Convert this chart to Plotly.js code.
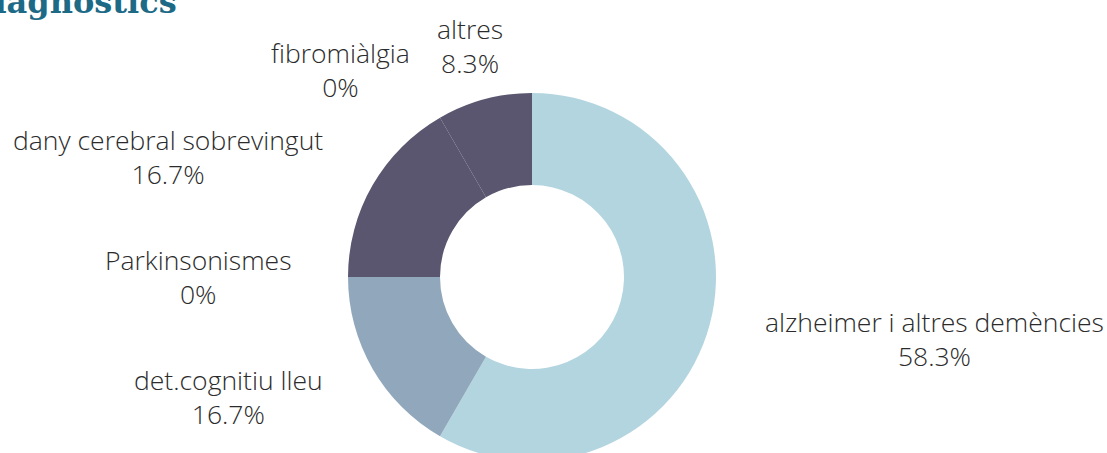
<!DOCTYPE html>
<html>
<head>
<meta charset="utf-8">
<script src="https://cdn.plot.ly/plotly-3.0.1.min.js"></script>
<style>
  html, body { margin: 0; padding: 0; overflow: hidden; background: #fff; }
  #myDiv { width: 1107px; height: 475px; }
</style>
</head>
<body>
<div id="myDiv"></div>
<script>
'use strict';
var labels = ['alzheimer i altres demències', 'det.cognitiu lleu', 'Parkinsonismes',
              'dany cerebral sobrevingut', 'fibromiàlgia', 'altres'];
var counts = [7, 2, 0, 2, 0, 1];
var colors = ['#b3d5e0', '#91a8bc', '#7c8aa3', '#5a5670', '#5a5670', '#5a5670'];

var trace1 = {
  type: 'pie',
  labels: labels,
  values: counts,
  hole: 0.5,
  sort: false,
  direction: 'clockwise',
  rotation: 0,
  textinfo: 'none',
  marker: { colors: colors, line: { width: 0 } },
  hoverinfo: 'label+percent'
};

// outside labels: one per slice, placed along the slice's middle angle
var total = counts.reduce(function (a, b) { return a + b; }, 0);
var labelRadius = 0.65; // in paper units of the (square) pie domain
var labelFont = { family: 'Open Sans', size: 26.5, color: '#2b2b2b', weight: 300 };
var annots = [];
var cum = 0;
for (var i = 0; i < counts.length; i++) {
  var mid = (cum + counts[i] / 2) / total * 2 * Math.PI;
  cum += counts[i];
  var sx = Math.sin(mid), cy = Math.cos(mid);
  var pct = Math.round(counts[i] / total * 1000) / 10;
  annots.push({
    text: labels[i] + '<br>' + pct + '%',
    xref: 'paper', yref: 'paper',
    x: 0.5 + labelRadius * sx,
    y: 0.5 + labelRadius * cy,
    xanchor: Math.abs(sx) < 0.3 ? 'center' : (sx > 0 ? 'left' : 'right'),
    yanchor: 'middle',
    align: 'center',
    showarrow: false,
    font: labelFont
  });
}

annots.push({
  text: '<b>diagnòstics</b>',
  xref: 'paper', yref: 'paper',
  x: 0, y: 1, xanchor: 'left', yanchor: 'bottom',
  xshift: -378, yshift: 70,
  showarrow: false,
  font: { family: 'DejaVu Serif', size: 32, color: '#1d6a87' }
});

var layout = {
  width: 1107,
  height: 475,
  showlegend: false,
  margin: { l: 348, r: 391, t: 93, b: 14 },
  paper_bgcolor: 'white',
  annotations: annots
};

Plotly.newPlot('myDiv', [trace1], layout, { displayModeBar: false });
</script>
</body>
</html>
